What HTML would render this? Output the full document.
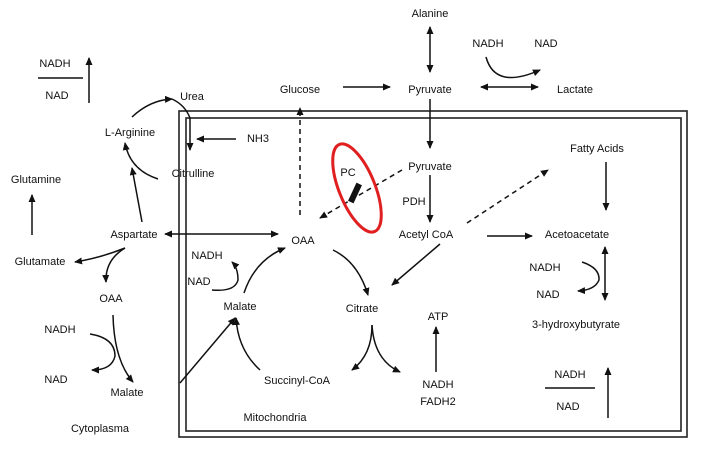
<!DOCTYPE html>
<html><head><style>body{margin:0;background:#fff}svg{display:block}text{font-family:"Liberation Sans",Arial,sans-serif;font-size:11px;fill:#111;text-anchor:middle}</style></head>
<body>
<svg width="702" height="458" viewBox="0 0 702 458" xmlns="http://www.w3.org/2000/svg">
<defs><marker id="a" markerWidth="8" markerHeight="8" refX="7" refY="4" orient="auto-start-reverse" markerUnits="userSpaceOnUse"><path d="M0,0.5 L8,4 L0,7.5z" fill="#111"/></marker></defs>
<g fill="none" stroke="#222" stroke-width="1.6">
<rect x="179" y="111" width="508" height="326"/>
<rect x="186" y="118" width="495" height="313"/>
</g>
<g fill="none" stroke="#111" stroke-width="1.5">
<line x1="430" y1="27" x2="430" y2="72" marker-start="url(#a)" marker-end="url(#a)"/>
<line x1="343" y1="87" x2="390" y2="87" marker-end="url(#a)"/>
<line x1="481" y1="87" x2="538" y2="87" marker-start="url(#a)" marker-end="url(#a)"/>
<path d="M486,57 Q495,90 540,70" marker-end="url(#a)"/>
<line x1="430" y1="99" x2="430" y2="148" marker-end="url(#a)"/>
<line x1="430" y1="175" x2="430" y2="222" marker-end="url(#a)"/>
<line x1="606" y1="162" x2="606" y2="210" marker-end="url(#a)"/>
<line x1="89" y1="103" x2="89" y2="58" marker-end="url(#a)"/>
<line x1="38" y1="78" x2="83" y2="78"/>
<line x1="545" y1="388" x2="595" y2="388"/>
<line x1="608" y1="418" x2="608" y2="368" marker-end="url(#a)"/>
<line x1="32" y1="235" x2="32" y2="195" marker-end="url(#a)"/>
<path d="M132,117 Q150,100 172,99" marker-end="url(#a)"/>
<path d="M172,99 Q185,105 190,118 L190,150" marker-end="url(#a)"/>
<line x1="236" y1="139" x2="197" y2="139" marker-end="url(#a)"/>
<path d="M158,179 Q130,170 125,143" marker-end="url(#a)"/>
<line x1="142" y1="222" x2="132" y2="168" marker-end="url(#a)"/>
<line x1="165" y1="234" x2="278" y2="234" marker-start="url(#a)" marker-end="url(#a)"/>
<path d="M125,248 Q100,258 75,262" marker-end="url(#a)"/>
<path d="M125,248 Q105,260 106,282" marker-end="url(#a)"/>
<path d="M113,315 Q114,360 133,382" marker-end="url(#a)"/>
<path d="M90,334 Q115,338 115,356 Q112,370 92,370" marker-end="url(#a)"/>
<line x1="180" y1="383" x2="235" y2="318" marker-end="url(#a)"/>
<path d="M260,370 Q238,350 236,318" marker-end="url(#a)"/>
<path d="M244,293 Q255,260 285,248" marker-end="url(#a)"/>
<path d="M212,290 Q235,292 238,280 Q238,268 232,262" marker-end="url(#a)"/>
<path d="M333,250 Q358,262 368,295" marker-end="url(#a)"/>
<line x1="440" y1="244" x2="392" y2="285" marker-end="url(#a)"/>
<line x1="487" y1="236" x2="532" y2="236" marker-end="url(#a)"/>
<path d="M372,325 Q372,355 352,370" marker-end="url(#a)"/>
<path d="M372,325 Q374,360 400,372" marker-end="url(#a)"/>
<line x1="436" y1="372" x2="436" y2="327" marker-end="url(#a)"/>
<line x1="605" y1="300" x2="605" y2="247" marker-start="url(#a)" marker-end="url(#a)"/>
<path d="M582,262 Q600,268 599,280 Q595,290 578,291" marker-end="url(#a)"/>
<g stroke-dasharray="5,4">
<line x1="300" y1="215" x2="300" y2="108" marker-end="url(#a)"/>
<line x1="402" y1="170" x2="320" y2="218" marker-end="url(#a)"/>
<line x1="467" y1="223" x2="548" y2="170" marker-end="url(#a)"/>
</g>
</g>
<ellipse cx="357" cy="188" rx="18" ry="47" transform="rotate(-22 357 188)" fill="none" stroke="#e02020" stroke-width="3"/>
<rect x="352" y="183" width="6" height="20" transform="rotate(25 355 193)" fill="#111"/>
<text x="430" y="17">Alanine</text>
<text x="488" y="47">NADH</text><text x="546" y="47">NAD</text>
<text x="300" y="93">Glucose</text><text x="430" y="93">Pyruvate</text><text x="575" y="93">Lactate</text>
<text x="55" y="67">NADH</text><text x="57" y="99">NAD</text>
<text x="192" y="100">Urea</text>
<text x="130" y="136">L-Arginine</text>
<text x="258" y="142">NH3</text>
<text x="193" y="177">Citrulline</text>
<text x="36" y="183">Glutamine</text>
<text x="430" y="170">Pyruvate</text><text x="414" y="205">PDH</text><text x="348" y="176">PC</text>
<text x="597" y="152">Fatty Acids</text>
<text x="134" y="238">Aspartate</text><text x="303" y="244">OAA</text><text x="426" y="238">Acetyl CoA</text><text x="577" y="238">Acetoacetate</text>
<text x="40" y="265">Glutamate</text>
<text x="207" y="259">NADH</text><text x="199" y="285">NAD</text>
<text x="545" y="271">NADH</text><text x="548" y="298">NAD</text>
<text x="111" y="302">OAA</text><text x="240" y="310">Malate</text><text x="362" y="312">Citrate</text><text x="438" y="320">ATP</text>
<text x="576" y="328">3-hydroxybutyrate</text>
<text x="60" y="333">NADH</text><text x="56" y="383">NAD</text><text x="127" y="396">Malate</text>
<text x="297" y="384">Succinyl-CoA</text><text x="438" y="388">NADH</text><text x="438" y="405">FADH2</text>
<text x="570" y="378">NADH</text><text x="568" y="410">NAD</text>
<text x="275" y="421">Mitochondria</text><text x="100" y="432">Cytoplasma</text>
</svg>
</body></html>
